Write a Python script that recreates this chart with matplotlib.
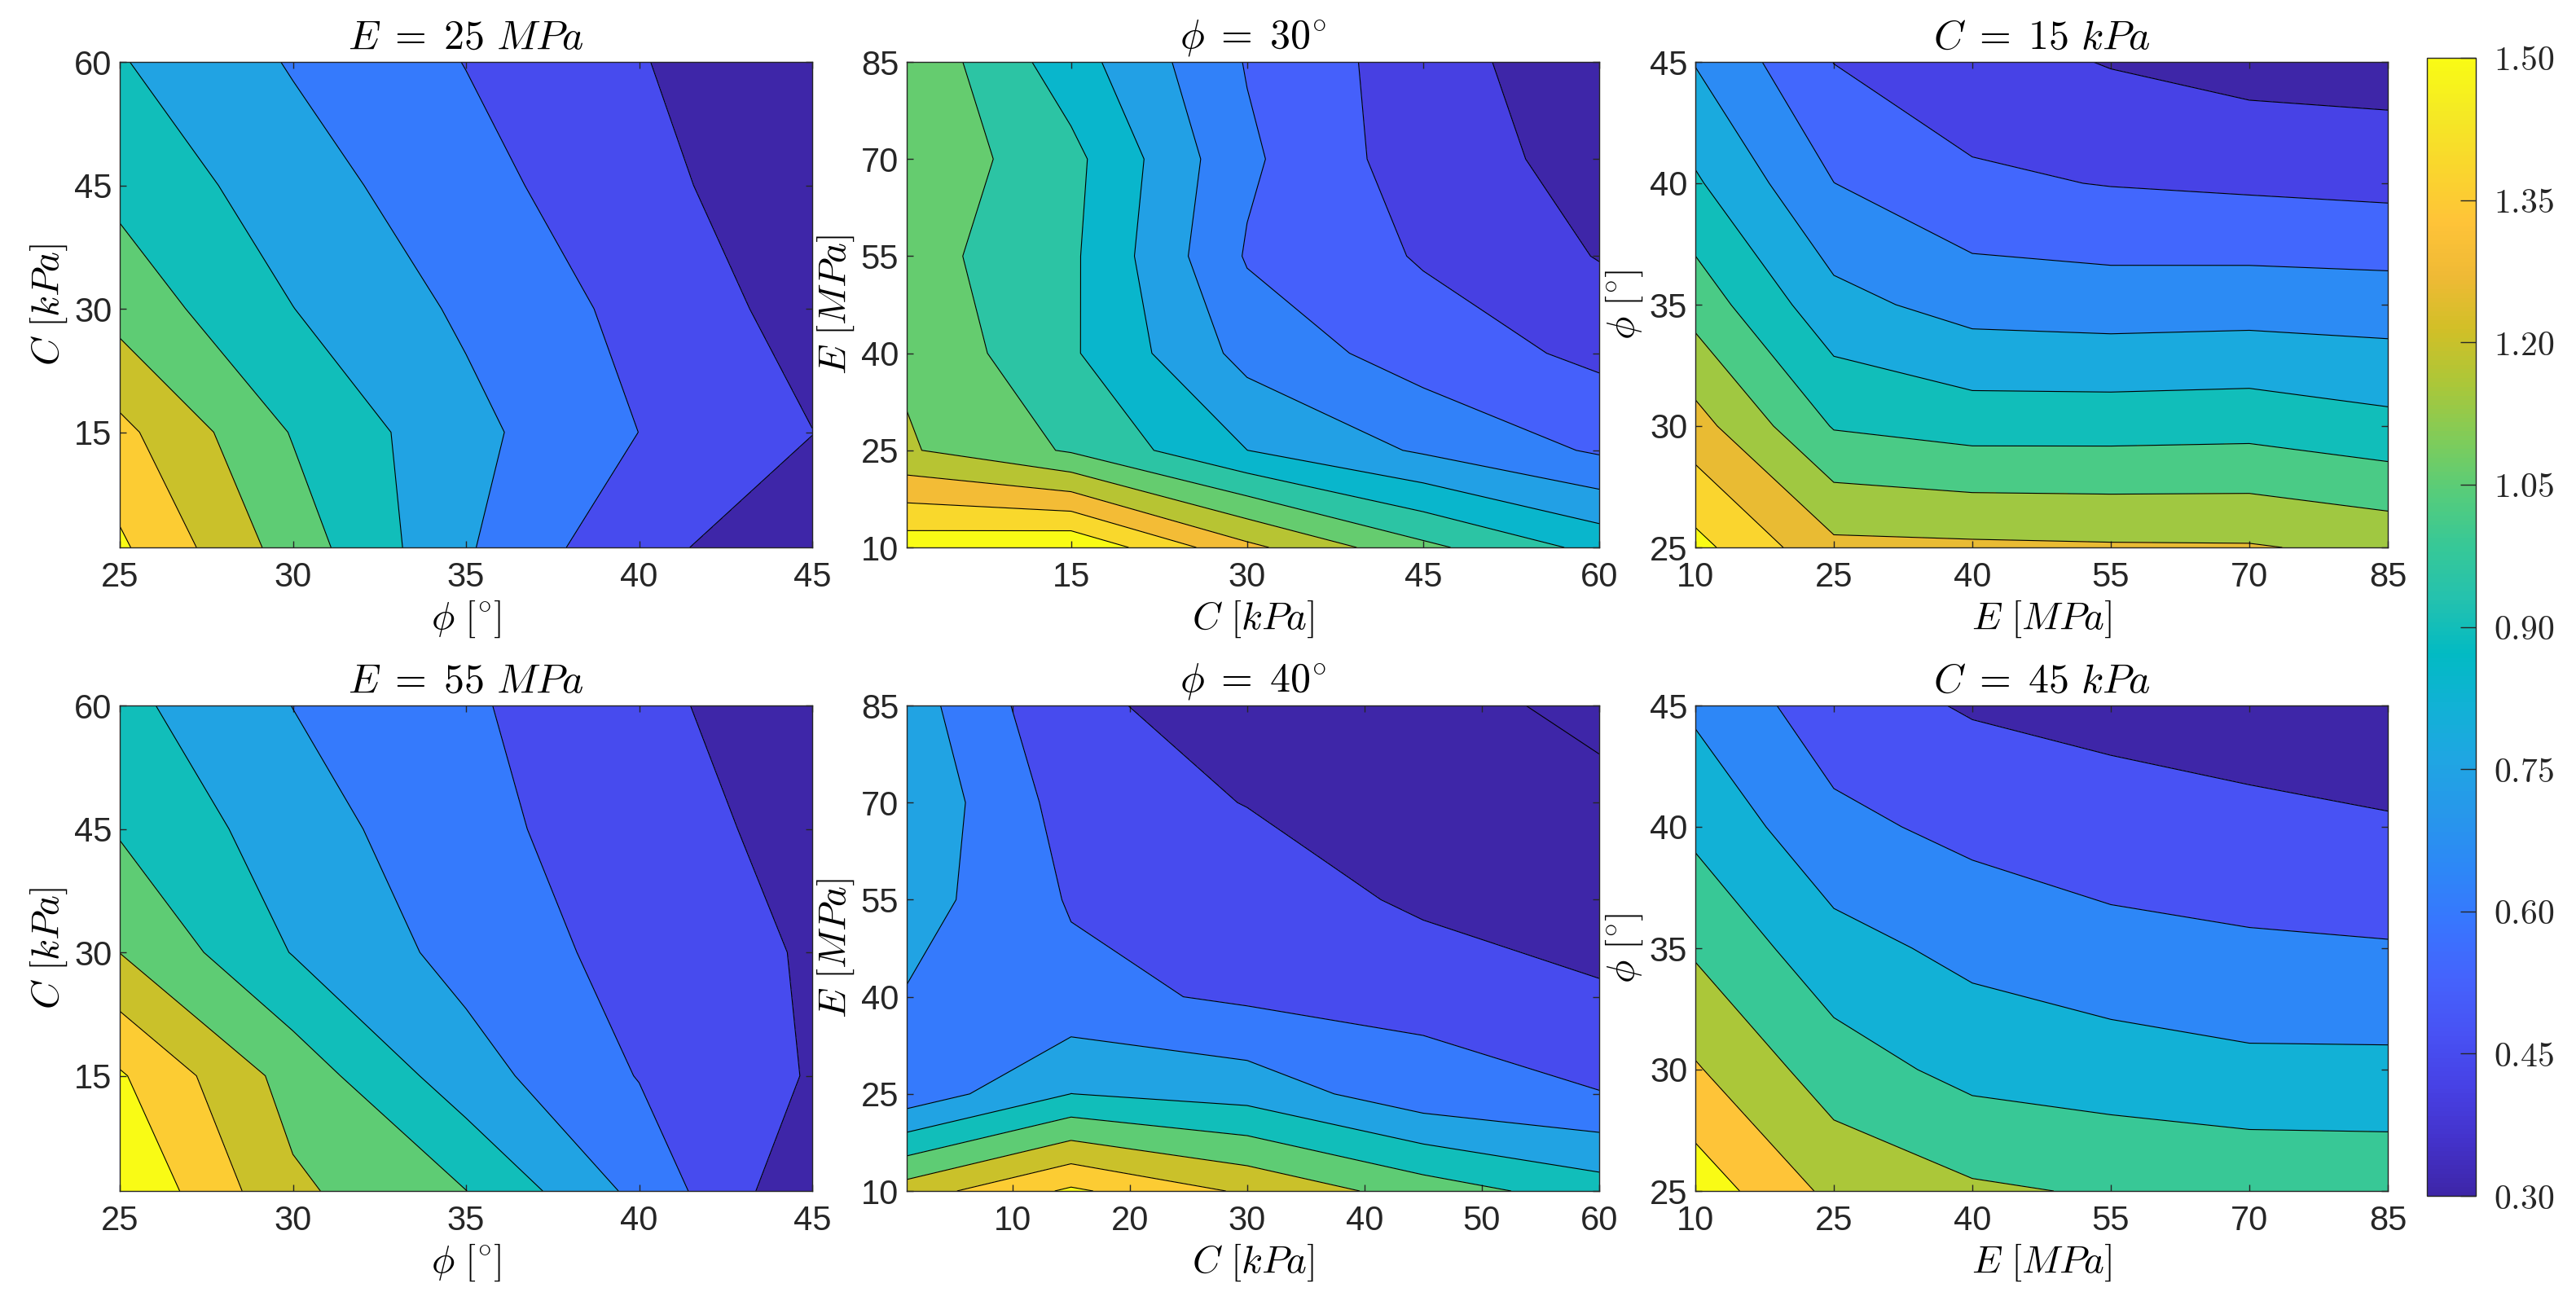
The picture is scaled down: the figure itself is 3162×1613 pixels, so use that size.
import numpy as np
import matplotlib
matplotlib.use('Agg')
import matplotlib.pyplot as plt
from matplotlib.colors import LinearSegmentedColormap, Normalize
from matplotlib.cm import ScalarMappable

# grids of the parametric study
phi_vals = [25, 30, 35, 40, 45]
c_vals = [1, 15, 30, 45, 60]
e_vals = [10, 25, 40, 55, 70, 85]

# E = 25 MPa and E = 55 MPa  (rows: C, columns: phi)
fs_e25 = [[1.525, 1.130, 0.767, 0.479, 0.380],
          [1.390, 1.040, 0.793, 0.599, 0.452],
          [1.141, 0.902, 0.725, 0.556, 0.390],
          [1.010, 0.817, 0.654, 0.495, 0.352],
          [0.910, 0.738, 0.596, 0.460, 0.310]]
fs_e55 = [[1.644, 1.228, 1.052, 0.709, 0.325],
          [1.517, 1.140, 0.812, 0.593, 0.439],
          [1.198, 0.893, 0.698, 0.545, 0.434],
          [1.035, 0.821, 0.646, 0.516, 0.400],
          [0.940, 0.748, 0.620, 0.490, 0.355]]

# phi = 30 and phi = 40  (rows: E, columns: C)
fs_phi30 = [[1.566, 1.593, 1.309, 1.090, 0.921],
            [1.185, 1.051, 0.846, 0.722, 0.613],
            [1.155, 0.969, 0.700, 0.575, 0.494],
            [1.110, 0.974, 0.617, 0.508, 0.404],
            [1.150, 0.986, 0.647, 0.458, 0.374],
            [1.152, 0.893, 0.620, 0.459, 0.332]]
fs_phi40 = [[1.273, 1.525, 1.326, 1.129, 0.971],
            [0.656, 0.901, 0.842, 0.656, 0.605],
            [0.740, 0.644, 0.575, 0.563, 0.471],
            [0.820, 0.587, 0.545, 0.420, 0.360],
            [0.869, 0.536, 0.445, 0.380, 0.320],
            [0.822, 0.472, 0.404, 0.328, 0.280]]

# C = 15 kPa and C = 45 kPa  (rows: phi, columns: E)
fs_c15 = [[1.538, 1.289, 1.281, 1.273, 1.270, 1.228],
          [1.307, 1.011, 0.969, 0.970, 0.978, 0.934],
          [1.090, 0.818, 0.733, 0.720, 0.727, 0.720],
          [0.916, 0.661, 0.560, 0.535, 0.520, 0.505],
          [0.774, 0.538, 0.468, 0.413, 0.374, 0.364]]
fs_c45 = [[1.602, 1.283, 1.183, 1.139, 1.120, 1.110],
          [1.345, 1.068, 0.932, 0.895, 0.855, 0.855],
          [1.133, 0.876, 0.767, 0.700, 0.668, 0.655],
          [0.946, 0.688, 0.596, 0.541, 0.521, 0.491],
          [0.783, 0.545, 0.455, 0.423, 0.378, 0.340]]

cbar_ticks = [0.30, 0.45, 0.60, 0.75, 0.90, 1.05, 1.20, 1.35, 1.50]

# parula (every third entry of the 64-colour table)
parula_rgb = [
    (0.2422, 0.1504, 0.6603), (0.2647, 0.1978, 0.7952), (0.2783, 0.2559, 0.8991),
    (0.2810, 0.3228, 0.9579), (0.2699, 0.3892, 0.9906), (0.2206, 0.4603, 0.9973),
    (0.1786, 0.5289, 0.9682), (0.1540, 0.5902, 0.9218), (0.1248, 0.6459, 0.8883),
    (0.0689, 0.6948, 0.8394), (0.0067, 0.7312, 0.7660), (0.1408, 0.7584, 0.6842),
    (0.2161, 0.7843, 0.5923), (0.3406, 0.8008, 0.4789), (0.5044, 0.7993, 0.3480),
    (0.6720, 0.7793, 0.2227), (0.8203, 0.7498, 0.1535), (0.9393, 0.7288, 0.2100),
    (0.9970, 0.7659, 0.2199), (0.9786, 0.8386, 0.1766), (0.9597, 0.9135, 0.1423),
    (0.9769, 0.9839, 0.0805)]
parula = LinearSegmentedColormap.from_list('parula', parula_rgb, N=256)
norm = Normalize(vmin=0.30, vmax=1.50, clip=True)

plt.rcParams['font.family'] = ['Liberation Sans', 'DejaVu Sans']
plt.rcParams['mathtext.fontset'] = 'cm'

W, H = 3162, 1613
fig = plt.figure(figsize=(W / 100, H / 100), dpi=100)

ax_w, ax_h = 850, 596
lefts = [147, 1113, 2081]
tops = [76, 866]


def draw_panel(col, row, x, y, z, n_levels, title, xlabel, ylabel, xticks, yticks, xlim, ylim):
    ax = fig.add_axes([lefts[col] / W, 1 - (tops[row] + ax_h) / H, ax_w / W, ax_h / H])
    levels = list(np.linspace(0.30, 1.50, n_levels))
    bounds = [-1.0] + levels + [3.0]
    # MATLAB style: each band takes the colour of its lower level
    colors = [parula(norm(b)) for b in bounds[:-1]]
    z = np.array(z)
    ax.contourf(x, y, z, levels=bounds, colors=colors)
    ax.contour(x, y, z, levels=levels, colors='k', linewidths=0.8)
    ax.set_xlim(*xlim)
    ax.set_ylim(*ylim)
    ax.set_xticks(xticks)
    ax.set_yticks(yticks)
    ax.tick_params(direction='in', top=True, right=True, length=6, width=1,
                   labelsize=30, colors='#262626')
    ax.tick_params(axis='x', pad=12)
    ax.tick_params(axis='y', pad=7)
    for s in ax.spines.values():
        s.set_color('#262626')
        s.set_linewidth(1.0)
    ax.set_title(title, fontsize=36, pad=12)
    ax.set_xlabel(xlabel, fontsize=34, labelpad=4)
    ax.set_ylabel(ylabel, fontsize=34, labelpad=4)
    return ax


phi_lab = r'$\phi\ [^{\circ}]$'
c_lab = r'$C\ [kPa]$'
e_lab = r'$E\ [MPa]$'

draw_panel(0, 0, phi_vals, c_vals, fs_e25, 9, r'$E\;=\;25\ MPa$', phi_lab, c_lab,
           [25, 30, 35, 40, 45], [15, 30, 45, 60], (25, 45), (1, 60))
draw_panel(1, 0, c_vals, e_vals, fs_phi30, 12, r'$\phi\;=\;30^{\circ}$', c_lab, e_lab,
           [15, 30, 45, 60], [10, 25, 40, 55, 70, 85], (1, 60), (10, 85))
draw_panel(2, 0, e_vals, phi_vals, fs_c15, 11, r'$C\;=\;15\ kPa$', e_lab, phi_lab,
           [10, 25, 40, 55, 70, 85], [25, 30, 35, 40, 45], (10, 85), (25, 45))
draw_panel(0, 1, phi_vals, c_vals, fs_e55, 9, r'$E\;=\;55\ MPa$', phi_lab, c_lab,
           [25, 30, 35, 40, 45], [15, 30, 45, 60], (25, 45), (1, 60))
draw_panel(1, 1, c_vals, e_vals, fs_phi40, 9, r'$\phi\;=\;40^{\circ}$', c_lab, e_lab,
           [10, 20, 30, 40, 50, 60], [10, 25, 40, 55, 70, 85], (1, 60), (10, 85))
draw_panel(2, 1, e_vals, phi_vals, fs_c45, 8, r'$C\;=\;45\ kPa$', e_lab, phi_lab,
           [10, 25, 40, 55, 70, 85], [25, 30, 35, 40, 45], (10, 85), (25, 45))

# shared colorbar
cax = fig.add_axes([2979 / W, 1 - 1468 / H, 60 / W, (1468 - 71) / H])
sm = ScalarMappable(norm=norm, cmap=parula)
cb = fig.colorbar(sm, cax=cax, ticks=cbar_ticks)
cb.ax.set_yticklabels([rf'${t:.2f}$' for t in cbar_ticks])
cb.ax.tick_params(direction='in', length=14, width=1, labelsize=30, pad=16, colors='#262626')
cb.outline.set_edgecolor('#262626')
cb.outline.set_linewidth(1.0)

fig.savefig('out.png', dpi=100)
